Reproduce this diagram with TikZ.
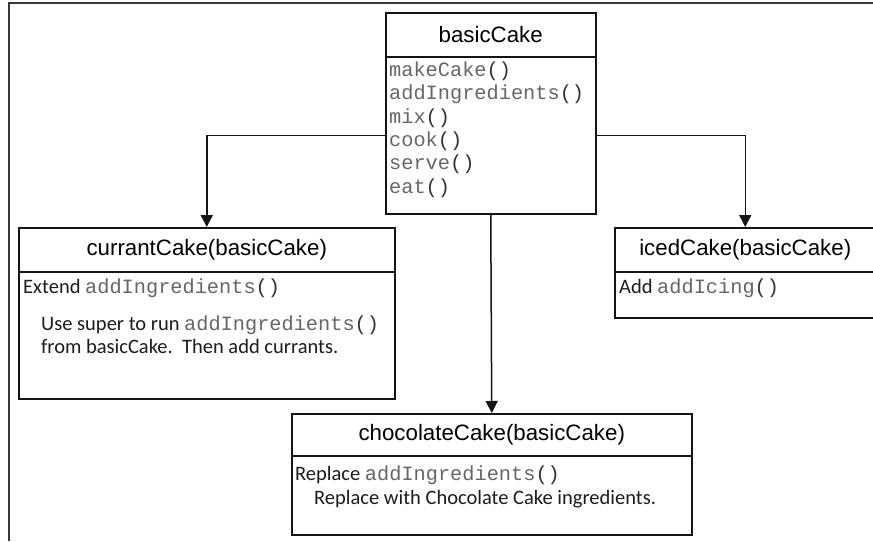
\documentclass[tikz,border=0pt]{standalone}
\usepackage{fontspec}
\setmainfont{Carlito}
\newfontfamily\hdrfont{Liberation Sans}
\newfontfamily\cmono{Liberation Mono}
\usetikzlibrary{arrows.meta}
\definecolor{linec}{HTML}{141414}
\definecolor{monoc}{HTML}{666666}
\definecolor{parc}{HTML}{333333}
\definecolor{textc}{HTML}{1C1C1C}
\newcommand{\mt}[1]{{\cmono\fontsize{20.3}{24}\selectfont\color{monoc}#1\color{parc}()}}
\begin{document}
\begin{tikzpicture}[x=1pt,y=-1pt,
  hdr/.style={draw=linec, line width=1.5pt, rectangle, inner sep=0pt, anchor=north west,
    font=\hdrfont\fontsize{22.3}{26}\selectfont, text=black},
  bodyb/.style={draw=linec, line width=1.5pt, rectangle, inner sep=0pt, anchor=north west},
  txt/.style={anchor=mid west, inner sep=0pt, font=\fontsize{20.5}{24}\selectfont, text=textc},
  arr/.style={draw=linec, line width=1.5pt, -{Triangle[width=12pt,length=12pt]}},
  framel/.style={draw=linec!85, line width=1.2pt}]
\useasboundingbox (0,0) rectangle (873,541);
\clip (0,0) rectangle (873,541);
\fill[white] (0,0) rectangle (873,541);
\draw[framel] (873,3) -- (9,3) -- (9,541);
% basicCake
\node[hdr, minimum width=210pt, minimum height=44pt] (bh) at (385,12) {basicCake};
\node[bodyb, minimum width=210pt, minimum height=157pt] (bb) at (385,56) {};
\foreach \t [count=\i] in {makeCake,addIngredients,mix,cook,serve,eat}
  \node[txt] (bm\i) at (389,{74+23.4*(\i-1)}) {\mt{\t}};
% currantCake
\node[hdr, minimum width=376pt, minimum height=44pt] (ch) at (18,227) {currantCake(basicCake)};
\node[bodyb, minimum width=376pt, minimum height=127pt] (cb) at (18,271) {};
\node[txt] (c1) at (23,291) {Extend \mt{addIngredients}};
\node[txt] (c2) at (41,328) {Use super to run \mt{addIngredients}};
\node[txt] (c3) at (41,351) {from basicCake.\ \ Then add currants.};
% icedCake
\node[hdr, minimum width=261pt, minimum height=44pt] (ih) at (614,227) {icedCake(basicCake)};
\node[bodyb, minimum width=261pt, minimum height=46pt] (ib) at (614,271) {};
\node[txt] (i1) at (619,291) {Add \mt{addIcing}};
% chocolateCake
\node[hdr, minimum width=400pt, minimum height=42pt] (kh) at (291,413) {chocolateCake(basicCake)};
\node[bodyb, minimum width=400pt, minimum height=79pt] (kb) at (291,455) {};
\node[txt] (k1) at (295,478) {Replace \mt{addIngredients}};
\node[txt] (k2) at (314,502) {Replace with Chocolate Cake ingredients.};
% connectors
\draw[arr] (bb.west) -| (ch.north);
\draw[arr] (bb.east) -| (ih.north);
\draw[arr] (bb.south) -- (kh.north);
\end{tikzpicture}
\end{document}
